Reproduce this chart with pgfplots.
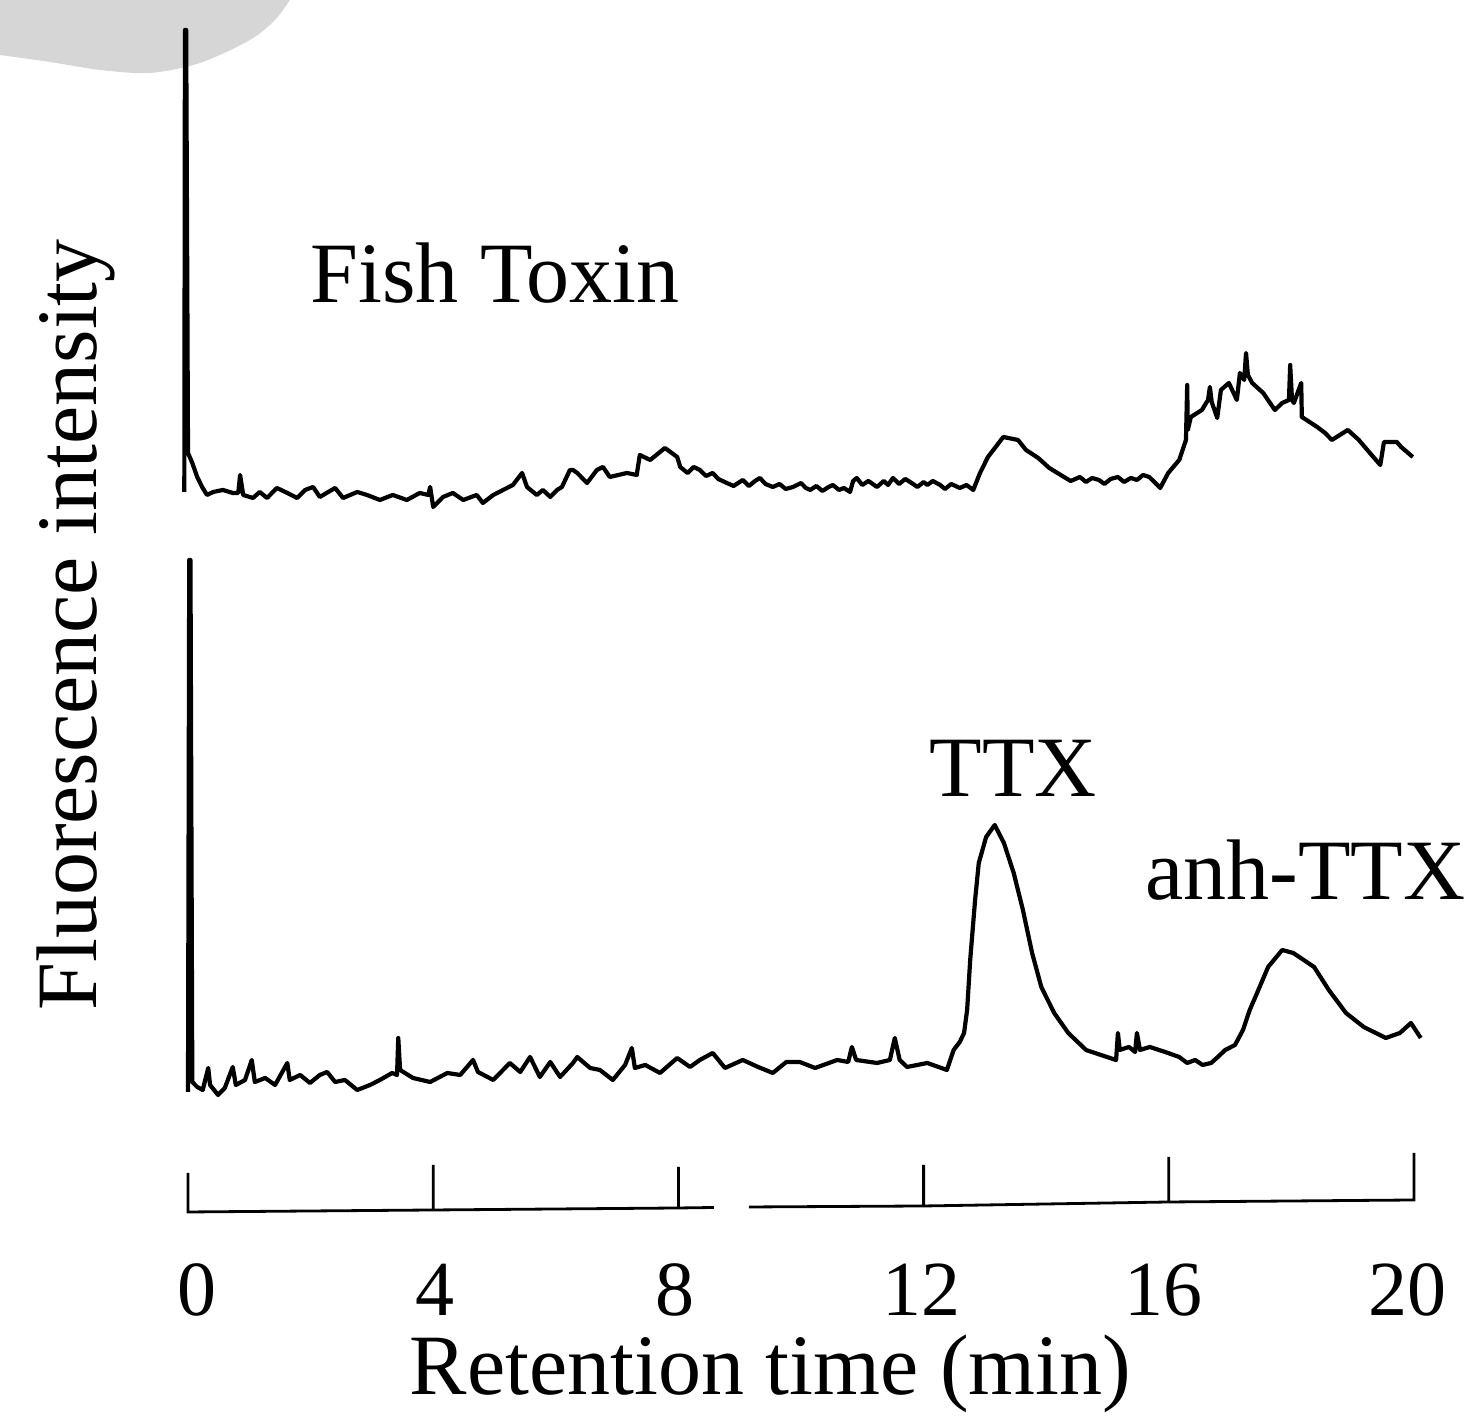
\documentclass[border=0pt]{standalone}
\usepackage{pgfplots}
\pgfplotsset{compat=1.18}
\usepackage{fontspec}
\setmainfont{Liberation Serif}

\newcommand{\labelfont}{\fontsize{43}{48}\selectfont}
\newcommand{\tickfont}{\fontsize{39}{44}\selectfont}

\begin{document}
\begin{tikzpicture}
\begin{axis}[
  scale only axis,
  width=742pt, height=708.5pt,
  xmin=-3.067, xmax=21.142,
  ymin=0, ymax=1417,
  hide axis,
  clip=false,
  unbounded coords=jump,
]
% grey smudge in the corner of the scan
\fill[black!16] plot[smooth] coordinates {(-3.067,1362) (-2.251,1355) (-1.436,1347) (-0.620,1344) (0.196,1354) (1.011,1377) (1.419,1397) (1.664,1417)} -- (-3.067,1417) -- cycle;
\path (rel axis cs:0,0) rectangle (rel axis cs:1,1);

% fish toxin trace
\addplot[black, line width=2.1pt, line join=round] coordinates {
(-0.06,925) (-0.05,1387) (-0.03,1387) (0.00,964) (0.07,954) (0.15,940) (0.23,930)
(0.31,922) (0.41,925) (0.57,927) (0.73,924) (0.82,924) (0.85,942) (0.90,922)
(1.06,919) (1.17,925) (1.29,919) (1.45,929) (1.62,924) (1.78,919) (1.91,927)
(2.04,930) (2.15,920) (2.40,929) (2.53,919) (2.76,925) (2.92,922) (3.13,917)
(3.34,922) (3.57,917) (3.78,924) (3.92,922) (3.95,930) (4.00,910) (4.16,920)
(4.32,924) (4.49,917) (4.71,922) (4.81,914) (4.98,922) (5.14,927) (5.30,932)
(5.45,944) (5.53,930) (5.69,922) (5.79,927) (5.91,920) (6.02,927) (6.10,930)
(6.23,947) (6.28,947) (6.35,944) (6.51,934) (6.67,947) (6.77,950) (6.88,940)
(7.16,944) (7.32,942) (7.37,962) (7.54,957) (7.78,969) (7.98,960) (8.03,950)
(8.15,944) (8.25,950) (8.35,947) (8.45,941) (8.56,944) (8.65,938) (8.79,934)
(8.90,931) (9.05,937) (9.15,931) (9.25,936) (9.33,939) (9.42,933) (9.54,930)
(9.65,933) (9.75,928) (9.87,930) (10.00,934) (10.08,929) (10.15,927) (10.25,931)
(10.35,926) (10.45,930) (10.52,932) (10.62,927) (10.70,929) (10.80,925)
(10.85,936) (10.91,939) (11.00,932) (11.10,936) (11.24,930) (11.35,936)
(11.42,932) (11.50,939) (11.60,933) (11.70,938) (11.78,935) (11.90,930)
(12.00,935) (12.06,932) (12.15,936) (12.27,932) (12.35,928) (12.45,933)
(12.59,929) (12.70,932) (12.81,927) (12.92,944)
(13.05,960) (13.30,980) (13.54,977) (13.67,967) (13.87,959) (14.05,949)
(14.29,940) (14.40,936) (14.55,940) (14.65,935) (14.75,939) (14.86,937)
(14.95,933) (15.05,938) (15.17,940) (15.27,935) (15.38,939) (15.48,937)
(15.58,942) (15.68,940) (15.78,934)
(15.86,929) (15.99,944) (16.17,957) (16.28,977) (16.30,1032) (16.31,987)
(16.36,1000) (16.54,1007) (16.64,1017) (16.67,1030) (16.70,1015) (16.79,999)
(16.85,1027) (16.98,1034) (17.11,1017) (17.16,1044) (17.23,1037) (17.26,1064)
(17.29,1042) (17.36,1034) (17.54,1024) (17.73,1007) (17.85,1014) (17.96,1017)
(17.98,1052) (18.01,1017) (18.04,1014) (18.16,1034) (18.17,1000) (18.42,990)
(18.55,984) (18.66,977) (18.92,987) (19.10,977) (19.28,964) (19.45,952)
(19.51,975) (19.72,975) (19.79,970) (19.98,960)
};

% TTX standard trace
\addplot[black, line width=2.1pt, line join=round] coordinates {
(0.00,325) (0.02,857) (0.04,857) (0.07,335) (0.15,330) (0.24,327) (0.33,349)
(0.36,332) (0.49,322) (0.60,329) (0.73,350) (0.78,332) (0.93,337) (1.04,357)
(1.09,335) (1.26,339) (1.42,332) (1.62,354) (1.66,337) (1.83,342) (1.99,334)
(2.15,342) (2.27,345) (2.40,335) (2.56,337) (2.76,327) (2.97,332) (3.13,337)
(3.33,344) (3.41,342) (3.43,379) (3.46,347) (3.67,339) (3.95,335) (4.23,344)
(4.44,342) (4.65,357) (4.73,345) (4.98,337) (5.25,354) (5.42,345) (5.58,360)
(5.74,340) (5.91,355) (6.07,340) (6.28,354) (6.35,360) (6.56,349) (6.72,347)
(6.93,337) (7.13,352) (7.24,369) (7.29,349) (7.46,352) (7.70,344) (7.98,359)
(8.19,350) (8.35,357) (8.56,364) (8.76,349) (9.05,357) (9.30,350) (9.54,344)
(9.76,355) (9.98,355) (10.23,349) (10.59,357) (10.77,355) (10.83,370)
(10.90,357) (11.24,354) (11.45,357) (11.53,379) (11.61,357) (11.73,350)
(12.06,354) (12.38,347) (12.49,367) (12.59,375) (12.66,384) (12.71,407)
(12.76,457) (12.84,517) (12.90,554) (13.02,580) (13.16,592) (13.31,574)
(13.47,544) (13.62,507) (13.77,464) (13.92,430) (14.13,404) (14.36,384)
(14.65,367) (14.99,360) (15.14,357) (15.17,384) (15.20,367) (15.35,370)
(15.45,365) (15.48,384) (15.53,367) (15.69,370) (15.94,365) (16.17,360)
(16.30,354) (16.43,357) (16.55,352) (16.69,354) (16.80,360) (16.92,367)
(17.08,372) (17.21,387) (17.32,407)
(17.44,424) (17.62,450) (17.85,467) (18.03,464) (18.20,457) (18.37,450)
(18.61,427) (18.89,404) (19.18,390) (19.54,379) (19.77,384) (19.95,394)
(20.11,379)
};

% time axis with its break
\addplot[black, line width=1.4pt] coordinates {
(0,244) (0,205) (4,207) (4,252) (4,207) (8,209) (8,250) (8,209) (8.58,209.5)
(8.58,nan)
(9.15,210) (12,211) (12,252) (12,211) (16,215) (16,260) (16,215) (20,217) (20,264)
};

\node[anchor=center, font=\tickfont] at (axis cs:0.15,127) {0};
\node[anchor=center, font=\tickfont] at (axis cs:4.03,127) {4};
\node[anchor=center, font=\tickfont] at (axis cs:7.94,127) {8};
\node[anchor=center, font=\tickfont] at (axis cs:11.96,127) {12};
\node[anchor=center, font=\tickfont] at (axis cs:15.92,127) {16};
\node[anchor=center, font=\tickfont] at (axis cs:19.90,127) {20};

\node[anchor=base, font=\labelfont] at (axis cs:9.50,22) {Retention time (min)};
\node[anchor=base, rotate=90, font=\labelfont] at (axis cs:-1.49,792) {Fluorescence intensity};

\node[anchor=base west, inner sep=0pt, font=\labelfont] at (axis cs:1.99,1114) {Fish Toxin};
\node[anchor=base, inner sep=0pt, font=\labelfont] at (axis cs:13.46,620) {TTX};
\node[anchor=base west, inner sep=0pt, font=\labelfont] at (axis cs:15.61,517) {anh-TTX};
\end{axis}
\end{tikzpicture}
\end{document}
